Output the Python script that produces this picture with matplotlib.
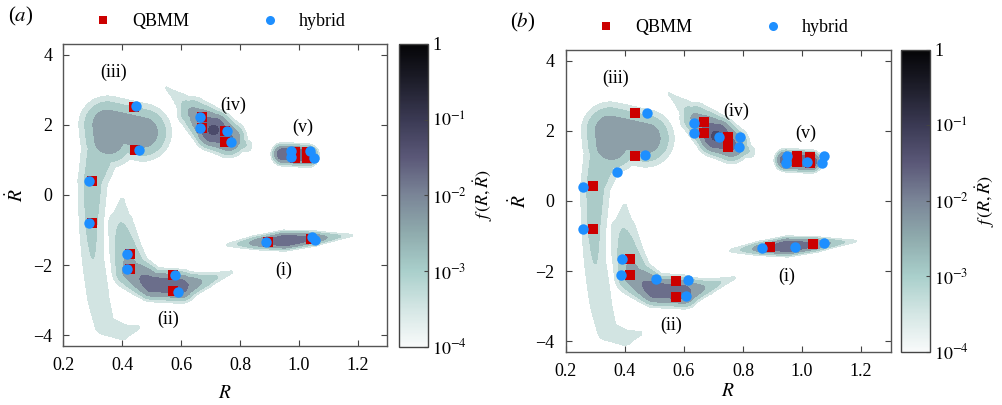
import numpy as np
import matplotlib
matplotlib.use("Agg")
import matplotlib.pyplot as plt
from matplotlib.colors import LinearSegmentedColormap, LogNorm
from matplotlib.cm import ScalarMappable
from matplotlib.lines import Line2D

plt.rcParams['font.family'] = ['Liberation Serif', 'DejaVu Serif']
plt.rcParams['mathtext.fontset'] = 'stix'
plt.rcParams['font.size'] = 13

# pdf lobes: ridge nodes (R, Rdot, width in px, log10 peak)
lobe_i = [(0.76, -1.42, 2, -3.4), (0.85, -1.36, 3, -2.3), (0.95, -1.30, 3.5, -1.5),
          (1.05, -1.24, 3, -2.0), (1.18, -1.15, 1.5, -3.4)]
lobe_ii = [(0.40, -0.15, 4, -3.45), (0.395, -0.8, 8, -3.0), (0.41, -1.5, 8, -2.65),
           (0.43, -2.15, 8, -2.25), (0.50, -2.55, 6, -1.7), (0.60, -2.6, 6, -1.75),
           (0.68, -2.45, 4, -2.6), (0.77, -2.2, 2, -3.4)]
lobe_iii_core = [(0.355, 1.6, 11.5, -2.15), (0.35, 2.0, 11.5, -2.15), (0.47, 1.78, 11.5, -2.15)]
lobe_iii_tail = [(0.33, 1.3, 10, -2.6), (0.30, 0.4, 8, -2.75), (0.295, -0.8, 7, -2.85),
                 (0.30, -1.8, 7, -3.0), (0.32, -3.0, 9, -3.2), (0.34, -3.7, 9, -3.25),
                 (0.40, -3.9, 8, -3.3), (0.45, -3.78, 5, -3.45)]
lobe_iv = [(0.55, 3.05, 2, -3.45), (0.60, 2.7, 5, -3.1), (0.64, 2.35, 7, -2.4),
           (0.71, 1.85, 7, -1.4), (0.76, 1.6, 7, -1.9), (0.82, 1.4, 4, -3.0)]
lobe_v = [(0.945, 1.16, 4, -1.6), (1.03, 1.12, 4, -1.6)]
lobes = [lobe_i, lobe_ii, lobe_iii_core, lobe_iii_tail, lobe_iv, lobe_v]

# moment points, panel (a)
qbmm_a_R = [0.44, 0.443, 0.296, 0.296, 0.426, 0.426, 0.573, 0.573, 0.67, 0.67, 0.749, 0.749,
            0.987, 0.987, 1.027, 1.027, 0.896, 1.041]
qbmm_a_Rd = [2.50, 1.27, 0.40, -0.81, -1.67, -2.12, -2.29, -2.73, 2.21, 1.92, 1.81, 1.52,
             1.22, 1.06, 1.22, 1.06, -1.33, -1.24]
hyb_a_R = [0.446, 0.457, 0.288, 0.287, 0.415, 0.415, 0.579, 0.59, 0.664, 0.664, 0.755, 0.768,
           0.973, 0.973, 1.036, 1.05, 0.888, 1.045, 1.053]
hyb_a_Rd = [2.52, 1.27, 0.40, -0.81, -1.67, -2.12, -2.29, -2.76, 2.21, 1.92, 1.83, 1.50,
            1.24, 1.08, 1.26, 1.04, -1.33, -1.19, -1.27]

# moment points, panel (b)
qbmm_b_R = [0.436, 0.436, 0.291, 0.291, 0.419, 0.419, 0.573, 0.573, 0.668, 0.668, 0.751, 0.751,
            0.982, 0.982, 1.027, 1.027, 0.893, 1.036]
qbmm_b_Rd = [2.51, 1.29, 0.42, -0.81, -1.67, -2.12, -2.28, -2.74, 2.24, 1.94, 1.83, 1.54,
             1.28, 1.10, 1.24, 1.08, -1.31, -1.22]
hyb_b_R = [0.476, 0.47, 0.375, 0.259, 0.257, 0.389, 0.387, 0.507, 0.614, 0.607, 0.635, 0.633,
           0.72, 0.791, 0.786, 0.948, 0.946, 1.016, 1.073, 1.067, 0.866, 0.976, 1.073]
hyb_b_Rd = [2.51, 1.30, 0.81, 0.40, -0.80, -1.67, -2.10, -2.23, -2.27, -2.71, 2.21, 1.92,
            1.83, 1.81, 1.54, 1.27, 1.09, 1.12, 1.27, 1.09, -1.33, -1.31, -1.19]

lobe_names = ['(i)', '(ii)', '(iii)', '(iv)', '(v)']
name_R = [0.947, 0.556, 0.37, 0.777, 1.012]
name_Rd = [-2.14, -3.55, 3.48, 2.55, 1.93]

cmap = LinearSegmentedColormap.from_list('pdf', [
    (0.0, '#f8fafa'), (0.125, '#d4e6e4'), (0.25, '#a9cfcb'), (0.375, '#8fabad'),
    (0.5, '#7a8597'), (0.625, '#5b5878'), (0.75, '#3b3a54'), (0.875, '#1e1e2b'),
    (1.0, '#050507')])
levels = [10**-3.5, 10**-3, 10**-2.5, 10**-2, 10**-1.5, 10]
band_cols = ['#d2e4e2', '#abcbc8', '#8d9fa8', '#6b6e8b', '#4b4a6a']


def density(RR, VV):
    sx, sy = 295.0, 35.0  # px per unit so widths read like the picture
    X, Y = RR * sx, VV * sy
    f = np.zeros_like(RR)
    for lobe in lobes:
        pts = np.array(lobe, dtype=float)
        for k in range(len(pts) - 1):
            x0, y0, w0, p0 = pts[k]
            x1, y1, w1, p1 = pts[k + 1]
            ax_, ay_ = x0 * sx, y0 * sy
            dx, dy = (x1 - x0) * sx, (y1 - y0) * sy
            L2 = dx * dx + dy * dy
            t = np.clip(((X - ax_) * dx + (Y - ay_) * dy) / L2, 0, 1)
            d2 = (X - ax_ - t * dx)**2 + (Y - ay_ - t * dy)**2
            w = w0 + t * (w1 - w0)
            p = p0 + t * (p1 - p0)
            f = np.maximum(f, 10**p * np.exp(-0.5 * d2 / w**2))
    return f


Rg = np.linspace(0.2, 1.3, 700)
Vg = np.linspace(-4.3, 4.3, 700)
RR, VV = np.meshgrid(Rg, Vg)
F = density(RR, VV)

fig = plt.figure(figsize=(10.03, 4.05), dpi=100)

panels = [
    ('a', [0.0631, 0.1457, 0.323, 0.7457], [0.3978, 0.1437, 0.0289, 0.7477], 8,
     qbmm_a_R, qbmm_a_Rd, hyb_a_R, hyb_a_Rd),
    ('b', [0.564, 0.1316, 0.324, 0.745], [0.8983, 0.1316, 0.0289, 0.745], 2,
     qbmm_b_R, qbmm_b_Rd, hyb_b_R, hyb_b_Rd),
]

for tag, pos, cpos, xpad, qR, qV, hR, hV in panels:
    ax = fig.add_axes(pos)
    ax.contourf(RR, VV, F, levels=levels, colors=band_cols, zorder=1)
    ax.plot(qR, qV, 's', color='#cc0000', ms=6.5, mew=0, zorder=3)
    ax.plot(hR, hV, 'o', color='#1e8fff', ms=7.5, mew=0, zorder=4)
    for nm, x, y in zip(lobe_names, name_R, name_Rd):
        ax.text(x, y, nm, ha='center', va='center', fontsize=13)
    ax.set_xlim(0.2, 1.3)
    ax.set_ylim(-4.3, 4.3)
    ax.set_xticks([0.2, 0.4, 0.6, 0.8, 1.0, 1.2])
    ax.set_xticklabels(['0.2', '0.4', '0.6', '0.8', '1.0', '1.2'])
    ax.set_yticks([-4, -2, 0, 2, 4])
    ax.tick_params(direction='in', top=True, right=True, length=4, width=0.8,
                   color='#444444', labelsize=13, pad=8)
    for s in ax.spines.values():
        s.set_color('#555555')
        s.set_linewidth(1.0)
    ax.set_xlabel('$R$', fontsize=14, labelpad=xpad)
    ax.set_ylabel(r'$\dot{R}$', fontsize=14, labelpad=4)
    ax.text(-0.17, 1.09, '($' + tag + '$)', transform=ax.transAxes, fontsize=15,
            ha='left', va='center')
    handles = [Line2D([], [], ls='none', marker='s', color='#cc0000', ms=5.5, mew=0),
               Line2D([], [], ls='none', marker='o', color='#1e8fff', ms=6.5, mew=0)]
    ax.legend(handles, ['QBMM', 'hybrid'], loc='center', bbox_to_anchor=(0.47, 1.075),
              ncol=2, frameon=False, fontsize=13, handletextpad=0.6, columnspacing=3.5,
              borderaxespad=0)

    cax = fig.add_axes(cpos)
    sm = ScalarMappable(norm=LogNorm(1e-4, 1), cmap=cmap)
    cb = fig.colorbar(sm, cax=cax)
    cb.set_ticks([1e-4, 1e-3, 1e-2, 1e-1, 1])
    cb.set_ticklabels(['$10^{-4}$', '$10^{-3}$', '$10^{-2}$', '$10^{-1}$', '1'])
    cb.minorticks_off()
    cax.tick_params(length=3, width=0.8, direction='in', color='#444444', labelsize=13, pad=3)
    cb.outline.set_edgecolor('#444444')
    cb.outline.set_linewidth(1.0)
    cb.set_label(r'$f\,(R,\dot{R})$', fontsize=13, labelpad=3)

fig.savefig('out.png', dpi=100)
